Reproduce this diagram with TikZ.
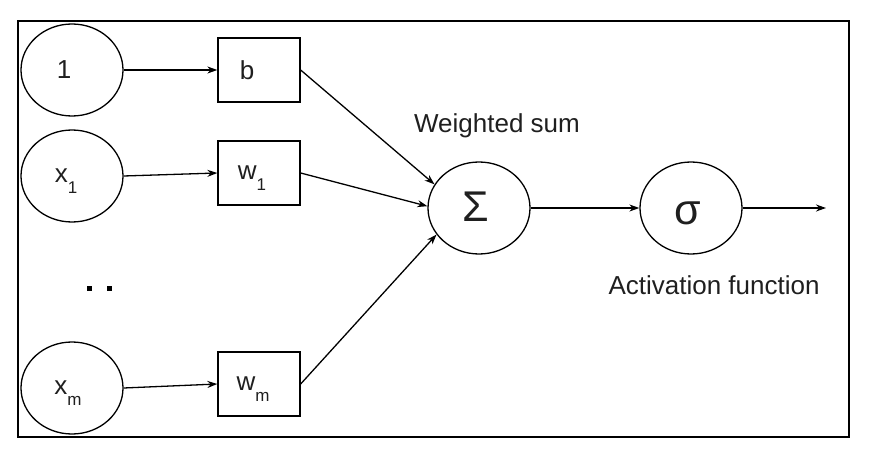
\documentclass[tikz,border=0pt]{standalone}
\usepackage{fontspec}
\setmainfont{Liberation Sans}
\usetikzlibrary{shapes.geometric,arrows.meta}
\newcommand\sbs[1]{\raisebox{-11pt}[0pt][0pt]{\fontsize{17}{17}\selectfont #1}}
\begin{document}
\begin{tikzpicture}[x=1pt,y=-1pt,
  every node/.style={font=\fontsize{26}{28}\selectfont, text=black!88},
  neuron/.style={draw, ellipse, line width=1.3pt, minimum width=102pt, minimum height=92pt, inner sep=0pt},
  wbox/.style={draw, rectangle, line width=1.3pt, minimum width=82pt, minimum height=64pt, inner sep=0pt},
  conn/.style={line width=1.3pt, -{Stealth[length=10pt,width=7pt]}},
  greek/.style={font=\fontsize{43}{45}\selectfont}]
\useasboundingbox (0,0) rectangle (877,462);
\draw[line width=2pt] (18,21) rectangle (849,437);
% inputs
\node[neuron] (in1) at (72,70) {\hspace*{-16pt}1};
\node[neuron] (inx1) at (72,176) {\hspace*{-12pt}x\sbs{1}};
\node[neuron] (inxm) at (72,388) {\hspace*{-8pt}x\sbs{m}};
% weights
\node[wbox] (b) at (259,70) {\hspace*{-24pt}b};
\node[wbox] (w1) at (259,173) {\hspace*{-14pt}w\sbs{1}};
\node[wbox] (wm) at (259,384) {\hspace*{-12pt}w\sbs{m}};
% dots
\fill (86.5,285.5) rectangle (91.5,290.5);
\fill (106.5,285.5) rectangle (111.5,290.5);
% sum and activation
\node[neuron] (sum) at (479,208) {};
\node[neuron] (act) at (691,208) {};
\node[greek] (sumsym) at (476,207) {Σ};
\node[greek] (actsym) at (688,213) {σ};
\coordinate (out) at (826,208);
% labels
\node (ws) at (497,126) {Weighted sum};
\node (af) at (714,285) {Activation function};
% connectors
\draw[conn] (in1) -- (b);
\draw[conn] (inx1.east) -- (w1.west);
\draw[conn] (inxm.east) -- (wm.west);
\draw[conn] (b.east) -- (sum.152);
\draw[conn] (w1.east) -- (sum.178);
\draw[conn] (wm.east) -- (sum.212);
\draw[conn] (sum) -- (act);
\draw[conn] (act) -- (out);
\end{tikzpicture}
\end{document}
